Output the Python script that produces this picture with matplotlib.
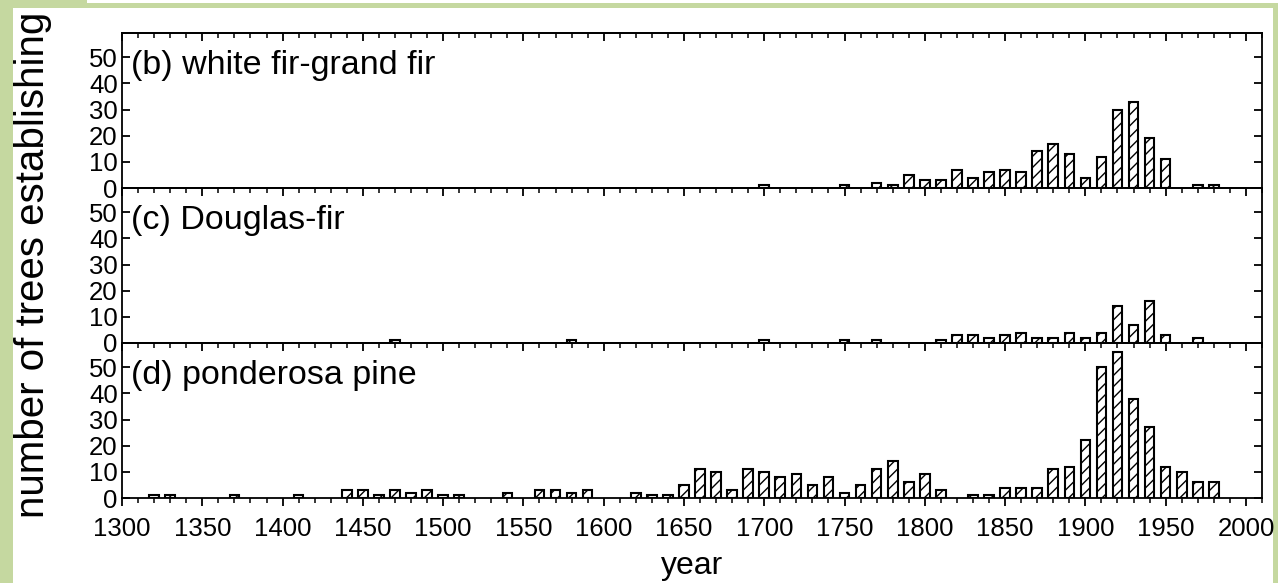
import matplotlib
matplotlib.use('Agg')
import matplotlib.pyplot as plt
from matplotlib.patches import Rectangle

plt.rcParams['font.family'] = ['Liberation Sans', 'DejaVu Sans']
plt.rcParams['hatch.linewidth'] = 1.0

# establishment counts per decade
b_years = [1700, 1750, 1770, 1780, 1790, 1800, 1810, 1820, 1830, 1840, 1850, 1860,
           1870, 1880, 1890, 1900, 1910, 1920, 1930, 1940, 1950, 1970, 1980]
b_counts = [1, 1, 2, 1, 5, 3, 3, 7, 4, 6, 7, 6, 14, 17, 13, 4, 12, 30, 33, 19, 11, 1, 1]

c_years = [1470, 1580, 1700, 1750, 1770, 1810, 1820, 1830, 1840, 1850, 1860, 1870,
           1880, 1890, 1900, 1910, 1920, 1930, 1940, 1950, 1970]
c_counts = [1, 1, 1, 1, 1, 1, 3, 3, 2, 3, 4, 2, 2, 4, 2, 4, 14, 7, 16, 3, 2]

d_years = [1320, 1330, 1370, 1410, 1440, 1450, 1460, 1470, 1480, 1490, 1500, 1510,
           1540, 1560, 1570, 1580, 1590, 1620, 1630, 1640, 1650, 1660, 1670, 1680,
           1690, 1700, 1710, 1720, 1730, 1740, 1750, 1760, 1770, 1780, 1790, 1800,
           1810, 1830, 1840, 1850, 1860, 1870, 1880, 1890, 1900, 1910, 1920, 1930,
           1940, 1950, 1960, 1970, 1980]
d_counts = [1, 1, 1, 1, 3, 3, 1, 3, 2, 3, 1, 1, 2, 3, 3, 2, 3, 2, 1, 1, 5, 11, 10, 3,
            11, 10, 8, 9, 5, 8, 2, 5, 11, 14, 6, 9, 3, 1, 1, 4, 4, 4, 11, 12, 22, 50,
            56, 38, 27, 12, 10, 6, 6]

panel_labels = ['(b) white fir-grand fir', '(c) Douglas-fir', '(d) ponderosa pine']
x_ticks = list(range(1300, 2001, 50))

W, H = 1278, 583
fig = plt.figure(figsize=(W / 100, H / 100), dpi=100)
fig.patch.set_facecolor('#c5d8a0')

# white page areas around the green frame
fig.add_artist(Rectangle((13 / W, 0), (1273 - 13) / W, (H - 8) / H,
                         transform=fig.transFigure, facecolor='white',
                         edgecolor='none', zorder=0))
fig.add_artist(Rectangle((87 / W, (H - 3) / H), (W - 87) / W, 3 / H,
                         transform=fig.transFigure, facecolor='white',
                         edgecolor='none', zorder=0))

left, right = 122, 1262
xmin, xmax = 1300, 2010
tops = [33, 188, 343]
ph = 155

# bottoms of the tick labels of the panel above, cut off by the page edge
for yr in x_ticks:
    xp = (left + (yr - xmin) * (right - left) / (xmax - xmin)) / W
    fig.text(xp, (H - 3) / H, str(yr), ha='center', va='bottom', fontsize=18.5)

data = [(b_years, b_counts), (c_years, c_counts), (d_years, d_counts)]
axes = []
for i, (yrs, cnts) in enumerate(data):
    ax = fig.add_axes([left / W, 1 - (tops[i] + ph) / H, (right - left) / W, ph / H])
    ax.bar(yrs, cnts, width=6, facecolor='white', edgecolor='black',
           linewidth=1.5, hatch='///', zorder=2)
    ax.set_xlim(xmin, xmax)
    ax.set_ylim(0, 59.3)
    ax.set_yticks([0, 10, 20, 30, 40, 50])
    ax.set_xticks(x_ticks)
    ax.set_xticks(range(1300, 2011, 10), minor=True)
    for s in ax.spines.values():
        s.set_linewidth(1.3)
    ax.tick_params(axis='y', which='both', left=True, right=True, direction='out',
                   length=6, width=1.3, labelsize=18.5, pad=3)
    ax.tick_params(axis='y', which='both', right=True, direction='in')
    ax.tick_params(axis='x', which='major', bottom=True, top=False, direction='out',
                   length=6, width=1.3, labelsize=18.5, pad=8)
    ax.tick_params(axis='x', which='minor', bottom=True, top=False, direction='out',
                   length=3.5, width=1.1)
    # top ticks point inward
    sec = ax.secondary_xaxis('top')
    sec.set_xticks(x_ticks)
    sec.set_xticks(range(1300, 2011, 10), minor=True)
    sec.tick_params(which='major', direction='in', length=6, width=1.3, labeltop=False)
    sec.tick_params(which='minor', direction='in', length=3.5, width=1.1)
    sec.spines['top'].set_linewidth(1.3)
    if i < 2:
        ax.tick_params(axis='x', labelbottom=False)
    ax.text(0.008, 0.89, panel_labels[i], transform=ax.transAxes, fontsize=24.5,
            ha='left', va='top')
    axes.append(ax)

axes[2].set_xlabel('year', fontsize=23, labelpad=7)
fig.text(0.026, 0.545, 'number of trees establishing', rotation=90,
         ha='center', va='center', fontsize=29)

fig.savefig('out.png', dpi=100, facecolor=fig.get_facecolor())
